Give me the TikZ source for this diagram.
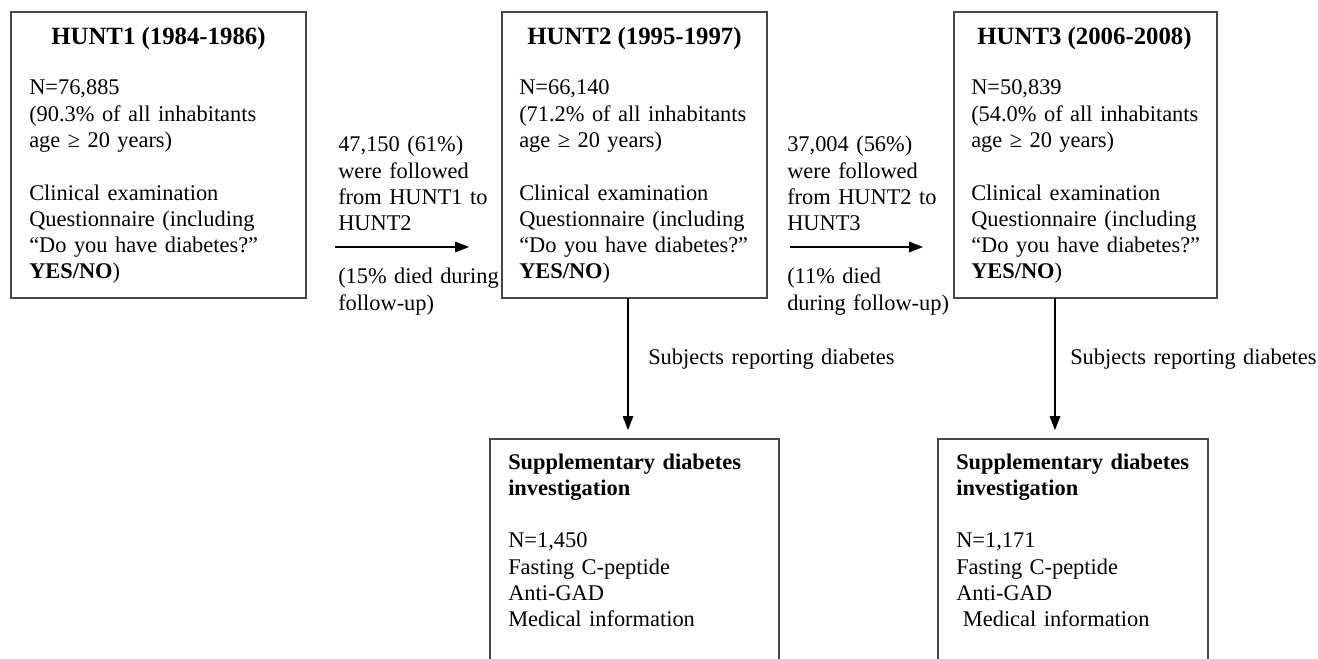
\documentclass[tikz,border=0pt]{standalone}
\usepackage{fontspec}
\setmainfont{Liberation Serif}
\usetikzlibrary{arrows.meta}
\tikzset{
  box/.style={draw=black!72, line width=1.2pt, rectangle, inner sep=0pt},
  body/.style={font=\fontsize{16.8}{19.7}\selectfont, inner sep=0pt, anchor=base west, align=left, text width=260pt},
  ttl/.style={font=\fontsize{18.6}{21}\selectfont\bfseries, inner sep=0pt, anchor=base},
  arr/.style={line width=0.9pt, -{Triangle[length=10.5pt, width=8pt]}}
}
\begin{document}
\begin{tikzpicture}[x=0.75pt, y=-0.75pt]
\clip (0,0) rectangle (1318,659);
\fill[white] (0,0) rectangle (1318,659);
% boxes
\node[box, minimum width=221.25pt, minimum height=214.5pt] (h1) at (158.5,155) {};
\node[box, minimum width=198.75pt, minimum height=214.5pt] (h2) at (634.5,155) {};
\node[box, minimum width=197.25pt, minimum height=214.5pt] (h3) at (1085.5,155) {};
\node[box, minimum width=216.75pt, minimum height=195.75pt] (s2) at (634.5,569.5) {};
\node[box, minimum width=202.5pt, minimum height=195.75pt] (s3) at (1073,569.5) {};
% titles
\node[ttl] (t1) at (158.5,45) {HUNT1 (1984-1986)};
\node[ttl] (t2) at (634.5,45) {HUNT2 (1995-1997)};
\node[ttl] (t3) at (1084.5,45) {HUNT3 (2006-2008)};
% box bodies
\node[body] (b1) at (29,95) {N=76,885\\(90.3\% of all inhabitants\\age ≥ 20 years)\\[19.7pt]Clinical examination\\Questionnaire (including\\“Do you have diabetes?”\\\textbf{YES/NO})};
\node[body] (b2) at (519,95) {N=66,140\\(71.2\% of all inhabitants\\age ≥ 20 years)\\[19.7pt]Clinical examination\\Questionnaire (including\\“Do you have diabetes?”\\\textbf{YES/NO})};
\node[body] (b3) at (971,95) {N=50,839\\(54.0\% of all inhabitants\\age ≥ 20 years)\\[19.7pt]Clinical examination\\Questionnaire (including\\“Do you have diabetes?”\\\textbf{YES/NO})};
\node[body] (b4) at (508,469) {\textbf{Supplementary diabetes}\\\textbf{investigation}\\[19.7pt]N=1,450\\Fasting C-peptide\\Anti-GAD\\Medical information};
\node[body] (b5) at (956,469) {\textbf{Supplementary diabetes}\\\textbf{investigation}\\[19.7pt]N=1,171\\Fasting C-peptide\\Anti-GAD\\\hspace*{5pt}Medical information};
% arrow labels
\node[body] (l1a) at (338,152) {47,150 (61\%)\\were followed\\from HUNT1 to\\HUNT2};
\node[body] (l1b) at (338,284) {(15\% died during\\follow-up)};
\node[body] (l2a) at (787,152) {37,004 (56\%)\\were followed\\from HUNT2 to\\HUNT3};
\node[body] (l2b) at (787,284) {(11\% died\\during follow-up)};
\node[body] (l3) at (648,365) {Subjects reporting diabetes};
\node[body] (l4) at (1070,365) {Subjects reporting diabetes};
% connector endpoints
\coordinate (a1s) at (335,247);
\coordinate (a1e) at (469,247);
\coordinate (a2s) at (790,247);
\coordinate (a2e) at (923,247);
\coordinate (v1s) at (628,298);
\coordinate (v1e) at (628,430);
\coordinate (v2s) at (1055,298);
\coordinate (v2e) at (1055,430);
\draw[arr] (a1s) -- (a1e);
\draw[arr] (a2s) -- (a2e);
\draw[arr] (v1s) -- (v1e);
\draw[arr] (v2s) -- (v2e);
\end{tikzpicture}
\end{document}
